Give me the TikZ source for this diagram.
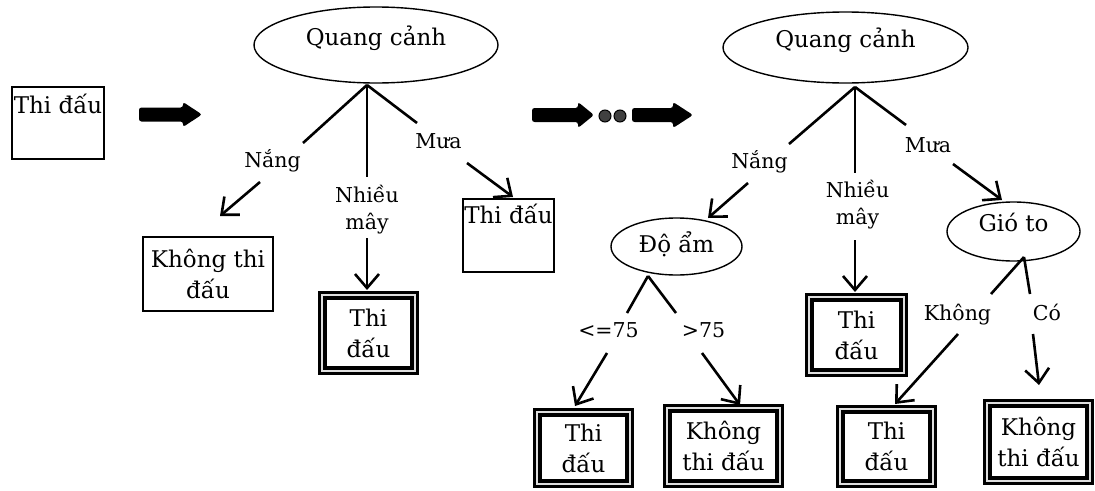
\documentclass[tikz,border=0pt]{standalone}
\usepackage{fontspec}
\setmainfont{DejaVu Serif}
\usetikzlibrary{arrows.meta,shapes.geometric}
\begin{document}
\begin{tikzpicture}[x=1pt,y=-1pt,
  every node/.style={inner sep=0pt, outer sep=0pt},
  mainf/.style={font=\fontsize{23}{31}\selectfont, align=center},
  lbl/.style={font=\fontsize{20.5}{27}\selectfont, align=center},
  sbox/.style={mainf, draw, line width=1.8pt},
  dbox/.style={mainf, draw, line width=3.2pt, double distance=2.2pt, double=gray!25},
  ell/.style={mainf, ellipse, draw, line width=1.4pt, text height=8pt, text depth=8pt},
  br/.style={line width=2.6pt},
  arr/.style={line width=2.6pt, -{Straight Barb[length=14pt,width=24pt]}},
  bigarrow/.style={fill=black, rounded corners=2.5pt},
  dotnode/.style={circle, draw, fill=black!75, line width=1pt, minimum size=12pt}
]
\useasboundingbox (0,0) rectangle (1095,490);

% ---------- left tree ----------
\node[sbox, minimum width=92pt, minimum height=72pt, text height=17pt, text depth=37pt] (t0) at (58,123) {Thi đấu};
\fill[bigarrow] (139,107.5) -- (183,107.5) -- (183,102) -- (202,114.5) -- (183,127) -- (183,121.5) -- (139,121.5) -- cycle;

\node[ell, minimum width=244pt, minimum height=76pt] (e1) at (376,45) {Quang cảnh};
\coordinate (a1) at (367,85);
\coordinate (a1l) at (303,143);
\coordinate (a1m) at (367,177);
\coordinate (a1r) at (417,123);
\draw[br] (a1) -- (a1l);
\draw[br] (a1) -- (a1m);
\draw[br] (a1) -- (a1r);

\node[lbl, anchor=base] (ln1) at (272.5,167) {Nắng};
\node[lbl, anchor=base] (lm1) at (438.5,148) {Mưa};
\node[lbl] (lc1) at (367,210) {Nhiều\\mây};

\coordinate (n1s) at (260,182);
\coordinate (n1e) at (220,216);
\coordinate (m1s) at (367,238);
\coordinate (m1e) at (367,290);
\coordinate (r1s) at (467,163);
\coordinate (r1e) at (513,197);
\draw[arr] (n1s) -- (n1e);
\draw[arr] (m1s) -- (m1e);
\draw[arr] (r1s) -- (r1e);

\node[sbox, minimum width=130pt, minimum height=74pt] (k1) at (208,274) {Không thi\\đấu};
\node[dbox, minimum width=92.4pt, minimum height=75.4pt] (d1) at (368.5,333) {Thi\\đấu};
\node[sbox, minimum width=91pt, minimum height=73pt, text height=17pt, text depth=42pt] (r1) at (508.5,235.5) {Thi đấu};

% ---------- middle arrows ----------
\fill[bigarrow] (532,108) -- (578,108) -- (578,102) -- (594,115) -- (578,128) -- (578,122) -- (532,122) -- cycle;
\node[dotnode] (dt1) at (605,116) {};
\node[dotnode] (dt2) at (620,116) {};
\fill[bigarrow] (632,108) -- (673,108) -- (673,102) -- (693,115) -- (673,128) -- (673,122) -- (632,122) -- cycle;

% ---------- right tree ----------
\node[ell, minimum width=245pt, minimum height=71pt] (e2) at (845.5,47.5) {Quang cảnh};
\coordinate (a2) at (855,87);
\coordinate (a2l) at (789,144);
\coordinate (a2m) at (855,173);
\coordinate (a2r) at (906,125);
\draw[br] (a2) -- (a2l);
\draw[br] (a2) -- (a2m);
\draw[br] (a2) -- (a2r);

\node[lbl, anchor=base] (ln2) at (759.5,168) {Nắng};
\node[lbl, anchor=base] (lm2) at (928,152) {Mưa};
\node[lbl] (lc2) at (857.5,205) {Nhiều\\mây};

\coordinate (n2s) at (748,183);
\coordinate (n2e) at (708,218);
\coordinate (m2s) at (855,240);
\coordinate (m2e) at (855,292);
\coordinate (r2s) at (953,164);
\coordinate (r2e) at (1002,200);
\draw[arr] (n2s) -- (n2e);
\draw[arr] (m2s) -- (m2e);
\draw[arr] (r2s) -- (r2e);

\node[ell, minimum width=131pt, minimum height=57pt, text height=14pt, text depth=2pt] (e3) at (676.5,246.5) {Độ ẩm};
\node[dbox, minimum width=94.4pt, minimum height=75.4pt] (d4) at (856.5,335) {Thi\\đấu};
\node[ell, minimum width=133pt, minimum height=59pt] (e4) at (1013.5,231.5) {Gió to};

% Do am branches
\coordinate (a3) at (648,276);
\coordinate (a3l) at (627,313);
\coordinate (a3r) at (676,313);
\draw[br] (a3) -- (a3l);
\draw[br] (a3) -- (a3r);
\node[lbl, anchor=base] (lle) at (608.5,337) {<=75};
\node[lbl, anchor=base] (lgt) at (703.5,337) {>75};
\coordinate (l3s) at (607,353);
\coordinate (l3e) at (575,406);
\coordinate (g3s) at (702,353);
\coordinate (g3e) at (740,405);
\draw[arr] (l3s) -- (l3e);
\draw[arr] (g3s) -- (g3e);
\node[dbox, minimum width=92.4pt, minimum height=71.4pt] (d2) at (583.5,448) {Thi\\đấu};
\node[dbox, minimum width=112.4pt, minimum height=75.4pt] (d3) at (723.5,446) {Không\\thi đấu};

% Gio to branches
\coordinate (a4) at (1024,257);
\coordinate (a4l) at (991,294);
\coordinate (a4r) at (1030,294);
\draw[br] (a4) -- (a4l);
\draw[br] (a4) -- (a4r);
\node[lbl, anchor=base] (lk) at (957.5,320) {Không};
\node[lbl, anchor=base] (lco) at (1047,320) {Có};
\coordinate (k4s) at (958,334);
\coordinate (k4e) at (895,404);
\coordinate (c4s) at (1033,334);
\coordinate (c4e) at (1039,385);
\draw[arr] (k4s) -- (k4e);
\draw[arr] (c4s) -- (c4e);
\node[dbox, minimum width=92.4pt, minimum height=74.4pt] (d5) at (886.5,446.5) {Thi\\đấu};
\node[dbox, minimum width=102.4pt, minimum height=77.4pt] (d6) at (1038.5,442) {Không\\thi đấu};
\end{tikzpicture}
\end{document}
